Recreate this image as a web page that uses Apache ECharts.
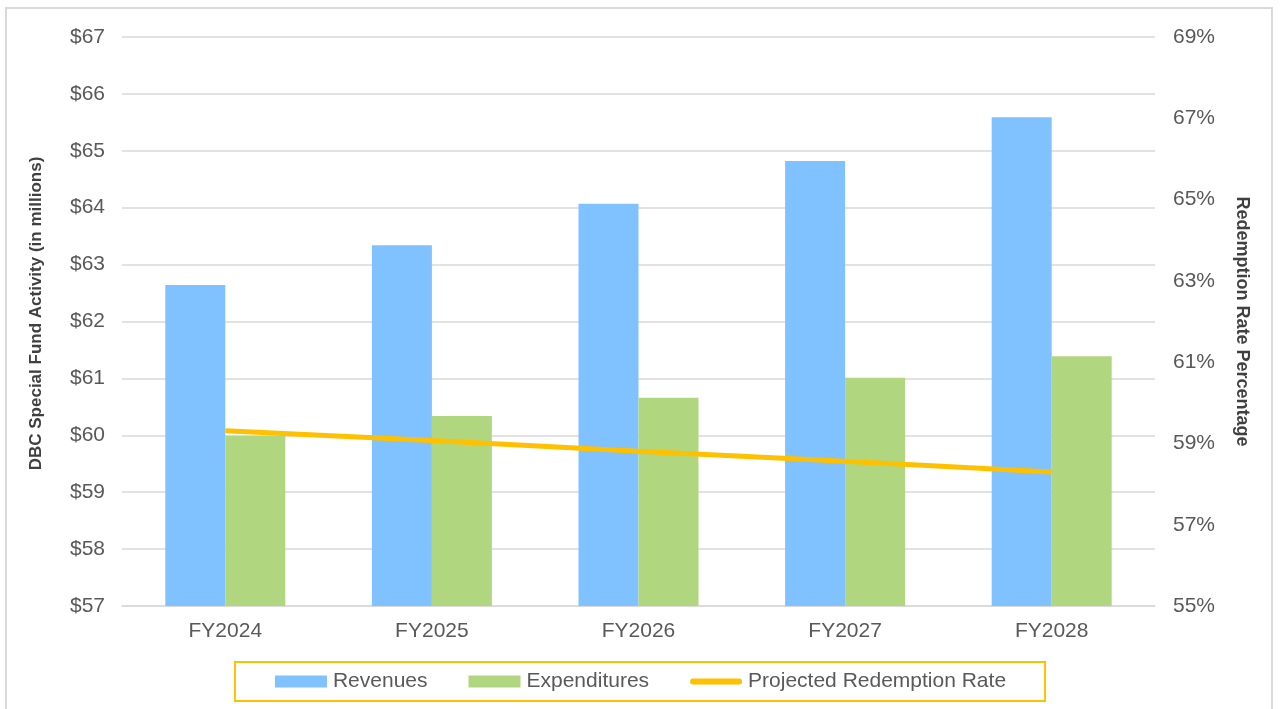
<!DOCTYPE html>
<html>
<head>
<meta charset="utf-8">
<script src="https://cdn.jsdelivr.net/npm/echarts@6/dist/echarts.min.js"></script>
<style>
html,body{margin:0;padding:0;background:#fff;}
#c{width:1281px;height:709px;}
</style>
</head>
<body>
<div id="c"></div>
<script>
const categories = ['FY2024','FY2025','FY2026','FY2027','FY2028'];
const revenues = [62.64, 63.34, 64.07, 64.82, 65.59];
const expenditures = [59.99, 60.34, 60.66, 61.01, 61.39];
const redemptionRate = [59.31, 59.07, 58.81, 58.56, 58.30];

const FONT = '"Liberation Sans", Arial, sans-serif';
const chart = echarts.init(document.getElementById('c'), null, {renderer:'canvas'});
chart.setOption({
  animation: false,
  backgroundColor: '#fff',
  textStyle: {fontFamily: FONT},
  graphic: [{
    type: 'rect', z: -10, silent: true,
    shape: {x: 6, y: 8, width: 1266, height: 720},
    style: {fill: 'none', stroke: '#d9d9d9', lineWidth: 2}
  }],
  grid: {left: 122, right: 126, top: 37, bottom: 103, containLabel: false},
  legend: {
    left: 'center', top: 662,
    itemWidth: 52, itemHeight: 12, itemGap: 41,
    padding: [9, 39, 9, 40],
    borderColor: '#FFC000', borderWidth: 2,
    textStyle: {fontFamily: FONT, fontSize: 21, color: '#595959', padding: [0,0,0,1]},
    data: [
      {name: 'Revenues', icon: 'rect'},
      {name: 'Expenditures', icon: 'rect'},
      {name: 'Projected Redemption Rate',
       icon: 'path://M0,0 L0.01,0 M3,3 L49,3 A3,3 0 0 1 49,9 L3,9 A3,3 0 0 1 3,3 Z M0,12 L0.01,12',
       itemStyle: {color: '#FFC000', borderWidth: 0}}
    ]
  },
  xAxis: {
    type: 'category', data: categories,
    axisTick: {show: false},
    axisLine: {lineStyle: {color: '#d9d9d9', width: 1.5}},
    axisLabel: {fontFamily: FONT, fontSize: 21, color: '#595959', margin: 15}
  },
  yAxis: [{
    type: 'value', min: 57, max: 67, interval: 1,
    name: 'DBC Special Fund Activity (in millions)',
    nameLocation: 'middle', nameGap: 77,
    nameTextStyle: {fontFamily: FONT, fontSize: 17, fontWeight: 'bold', color: '#404040', padding: [0, 0, 0, 16]},
    axisLine: {show: false}, axisTick: {show: false},
    axisLabel: {formatter: '${value}', fontFamily: FONT, fontSize: 21, color: '#595959', margin: 17},
    splitLine: {lineStyle: {color: '#d9d9d9', width: 1.5}}
  },{
    type: 'value', min: 55, max: 69, interval: 2,
    name: 'Redemption Rate Percentage',
    nameLocation: 'middle', nameGap: 78, nameRotate: -90,
    nameTextStyle: {fontFamily: FONT, fontSize: 18, fontWeight: 'bold', color: '#404040'},
    axisLine: {show: false}, axisTick: {show: false},
    axisLabel: {formatter: '{value}%', fontFamily: FONT, fontSize: 21, color: '#595959', margin: 18},
    splitLine: {show: false}
  }],
  series: [{
    name: 'Revenues', type: 'bar', data: revenues,
    barWidth: 60, barGap: '0%',
    itemStyle: {color: '#80C1FF'}
  },{
    name: 'Expenditures', type: 'bar', data: expenditures,
    barWidth: 60,
    itemStyle: {color: '#B0D77F'}
  },{
    name: 'Projected Redemption Rate', type: 'line', yAxisIndex: 1,
    data: redemptionRate, symbol: 'none', showSymbol: false,
    lineStyle: {color: '#FFC000', width: 5}, itemStyle: {color: '#FFC000'}
  }]
});
</script>
</body>
</html>
